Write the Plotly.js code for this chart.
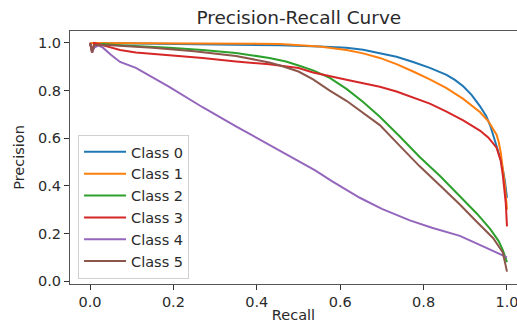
<!DOCTYPE html>
<html>
<head>
<meta charset="utf-8">
<script src="https://cdn.plot.ly/plotly-3.0.1.min.js"></script>
<style>html,body{margin:0;padding:0;background:#fff;}#chart{width:517px;height:323px;}</style>
</head>
<body>
<div id="chart"></div>
<script>
const classNames = ["Class 0", "Class 1", "Class 2", "Class 3", "Class 4", "Class 5"];
const colors = ["#1f77b4", "#ff7f0e", "#2ca02c", "#d62728", "#9467bd", "#8c564b"];
const tickValues = [0, 0.2, 0.4, 0.6, 0.8, 1.0];
const tickLabels = ["0.0", "0.2", "0.4", "0.6", "0.8", "1.0"];

const recall0 = [0, 0.005, 0.02, 0.1, 0.2, 0.3, 0.4, 0.456, 0.55, 0.615, 0.655, 0.695, 0.735, 0.775, 0.815, 0.855, 0.875, 0.895, 0.915, 0.935, 0.95, 0.96, 0.967, 0.975, 0.985, 0.99, 0.995, 1.0];
const precision0 = [1.0, 0.97, 1.0, 0.998, 0.997, 0.995, 0.993, 0.99, 0.985, 0.98, 0.971, 0.958, 0.942, 0.92, 0.895, 0.866, 0.845, 0.818, 0.782, 0.735, 0.693, 0.652, 0.615, 0.568, 0.51, 0.47, 0.42, 0.35];

const recall1 = [0, 0.01, 0.1, 0.2, 0.3, 0.4, 0.456, 0.55, 0.615, 0.655, 0.695, 0.735, 0.775, 0.815, 0.855, 0.895, 0.935, 0.955, 0.975, 0.98, 0.985, 0.99, 0.995, 1.0];
const precision1 = [1.0, 1.0, 1.0, 0.999, 0.998, 0.997, 0.995, 0.985, 0.97, 0.956, 0.937, 0.911, 0.88, 0.847, 0.81, 0.765, 0.71, 0.672, 0.615, 0.585, 0.54, 0.475, 0.40, 0.30];

const recall2 = [0, 0.005, 0.01, 0.03, 0.072, 0.19, 0.27, 0.35, 0.43, 0.47, 0.5, 0.535, 0.575, 0.615, 0.655, 0.695, 0.743, 0.79, 0.84, 0.887, 0.928, 0.96, 0.98, 0.99, 1.0];
const precision2 = [1.0, 0.97, 0.99, 0.995, 0.99, 0.98, 0.97, 0.958, 0.937, 0.922, 0.905, 0.885, 0.853, 0.807, 0.752, 0.69, 0.607, 0.522, 0.44, 0.358, 0.283, 0.218, 0.168, 0.13, 0.08];

const recall3 = [0, 0.005, 0.01, 0.031, 0.072, 0.11, 0.19, 0.27, 0.35, 0.43, 0.5, 0.535, 0.615, 0.695, 0.735, 0.775, 0.815, 0.855, 0.895, 0.935, 0.955, 0.975, 0.985, 0.99, 0.997, 1.0];
const precision3 = [1.0, 0.96, 1.0, 0.99, 0.97, 0.96, 0.95, 0.937, 0.922, 0.91, 0.895, 0.876, 0.845, 0.816, 0.796, 0.772, 0.745, 0.712, 0.675, 0.632, 0.603, 0.56, 0.505, 0.445, 0.33, 0.23];

const recall4 = [0, 0.005, 0.01, 0.02, 0.031, 0.05, 0.072, 0.11, 0.19, 0.27, 0.35, 0.41, 0.46, 0.5, 0.54, 0.58, 0.647, 0.70, 0.767, 0.82, 0.887, 0.94, 0.98, 1.0];
const precision4 = [1.0, 0.96, 0.98, 0.99, 0.98, 0.95, 0.92, 0.895, 0.815, 0.73, 0.65, 0.592, 0.545, 0.507, 0.465, 0.42, 0.35, 0.303, 0.255, 0.224, 0.19, 0.148, 0.114, 0.10];

const recall5 = [0, 0.005, 0.01, 0.05, 0.15, 0.25, 0.35, 0.43, 0.456, 0.5, 0.535, 0.575, 0.615, 0.647, 0.695, 0.743, 0.79, 0.84, 0.887, 0.928, 0.967, 0.99, 1.0];
const precision5 = [1.0, 0.96, 0.99, 0.99, 0.98, 0.965, 0.945, 0.918, 0.905, 0.88, 0.847, 0.80, 0.757, 0.717, 0.655, 0.568, 0.483, 0.40, 0.322, 0.248, 0.18, 0.12, 0.04];

const recalls = [recall0, recall1, recall2, recall3, recall4, recall5];
const precisions = [precision0, precision1, precision2, precision3, precision4, precision5];

const font = "DejaVu Sans, sans-serif";
const textColor = "#2a2a2a";
const traces = classNames.map((name, i) => ({
  type: "scatter",
  mode: "lines",
  name: name,
  x: recalls[i],
  y: precisions[i],
  line: {color: colors[i], width: 2}
}));

const axisCommon = {
  showgrid: false,
  zeroline: false,
  showline: true,
  linecolor: "#555",
  linewidth: 1,
  ticks: "outside",
  ticklen: 5,
  tickcolor: "#333",
  tickvals: tickValues,
  ticktext: tickLabels,
  ticklabeloverflow: "allow",
  tickfont: {family: font, size: 14.5, color: textColor}
};

const layout = {
  width: 517,
  height: 323,
  margin: {l: 70, r: 0, t: 31, b: 39},
  paper_bgcolor: "#fff",
  plot_bgcolor: "#fff",
  title: {
    text: "Precision-Recall Curve",
    font: {family: font, size: 18.5, color: textColor},
    x: 0.578, xanchor: "center", xref: "container",
    y: 0.945, yanchor: "middle", yref: "container"
  },
  xaxis: Object.assign({}, axisCommon, {
    range: [-0.048, 1.024],
    mirror: true,
    title: {text: "Recall", font: {family: font, size: 14.5, color: textColor}, standoff: 8}
  }),
  yaxis: Object.assign({}, axisCommon, {
    range: [-0.012, 1.05],
    mirror: false,
    title: {text: "Precision", font: {family: font, size: 14.5, color: textColor}, standoff: 9}
  }),
  showlegend: true,
  legend: {
    x: 0.018, xanchor: "left",
    y: 0.02, yanchor: "bottom",
    bgcolor: "rgba(255,255,255,0.85)",
    bordercolor: "#d0d0d0",
    borderwidth: 1,
    itemwidth: 42,
    font: {family: font, size: 14.5, color: textColor},
    tracegroupgap: 0
  }
};

Plotly.newPlot("chart", traces, layout, {staticPlot: true, displayModeBar: false});
</script>
</body>
</html>
